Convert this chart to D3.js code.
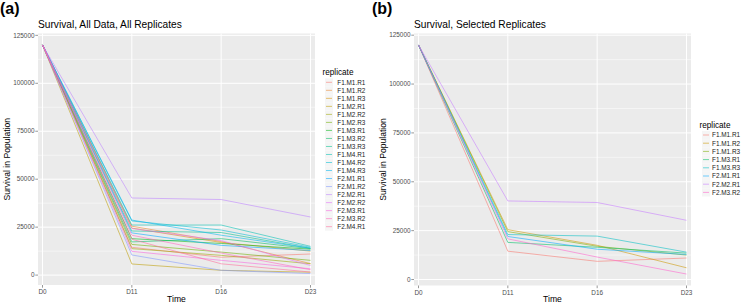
<!DOCTYPE html>
<head>
  <meta charset="utf-8">
  <script src="https://d3js.org/d3.v7.min.js"></script>
  <style>
    body { margin: 0; background: #fff; font-family: "Liberation Sans", Arial, sans-serif; }
    svg { display: block; }
    .tick-lab { fill: #4d4d4d; font-size: 6.4px; }
    .ax-title { fill: #000; font-size: 8.6px; }
    .plot-title { fill: #000; font-size: 10.2px; }
    .leg-lab { fill: #1a1a1a; font-size: 6.4px; }
    .leg-title { fill: #000; font-size: 8.2px; }
    .tag { font-weight: bold; font-size: 16px; fill: #000; }
  </style>
</head>
<body>
<div id="chart"></div>
<script>

var days = ["D0", "D11", "D16", "D23"];

var replicates = ["F1.M1.R1","F1.M1.R2","F1.M1.R3","F1.M2.R1","F1.M2.R2","F1.M2.R3",
                  "F1.M3.R1","F1.M3.R2","F1.M3.R3","F1.M4.R1","F1.M4.R2","F1.M4.R3",
                  "F2.M1.R1","F2.M1.R2","F2.M2.R1","F2.M2.R2","F2.M3.R1","F2.M3.R2","F2.M4.R1"];

// survival at D0, D11, D16, D23 for each replicate (same order as above)
var survival = [
  [120000, 14500,  9300, 11000],
  [120000, 25500, 17500,  6000],
  [120000, 24500, 17000, 12500],
  [120000,  5800,  2500,  1500],
  [120000, 13800, 10300,  5900],
  [120000, 16000, 12000,  7700],
  [120000, 19000, 16500, 13500],
  [120000, 17300, 19000, 13800],
  [120000, 23000, 22200, 14000],
  [120000, 26100, 26100, 15000],
  [120000, 28200, 23500, 14500],
  [120000, 28700, 20800, 14000],
  [120000, 22000, 15500, 12800],
  [120000, 10500,  2500,   800],
  [120000, 40200, 39400, 30300],
  [120000, 24300, 18000,  5000],
  [120000, 12400,  7700,  3300],
  [120000, 20800, 11500,  2800],
  [120000, 18700,  5900,  1600]
];

var selected = ["F1.M1.R1","F1.M1.R2","F1.M1.R3","F1.M3.R1","F1.M3.R3","F2.M1.R1","F2.M2.R1","F2.M3.R2"];

var yTicks = [0, 25000, 50000, 75000, 100000, 125000];

// ggplot2 default hue palette (polar LUV)
function hcl2hex(h, c, l) {
  var WX = 95.047, WY = 100, WZ = 108.883;
  var hr = h * Math.PI / 180, U = c * Math.cos(hr), V = c * Math.sin(hr);
  var Y = WY * (l > 7.999592 ? Math.pow((l + 16) / 116, 3) : l / 903.3);
  var t = WX + WY + WZ, x = WX / t, y = WY / t;
  var uN = 2 * x / (6 * y - x + 1.5), vN = 4.5 * y / (6 * y - x + 1.5);
  var u = U / (13 * l) + uN, v = V / (13 * l) + vN;
  var X = 9 * Y * u / (4 * v);
  var Z = -X / 3 - 5 * Y + 3 * Y / v;
  function g(a) { a = a > 0.00304 ? 1.055 * Math.pow(a, 1 / 2.4) - 0.055 : 12.92 * a; return Math.round(Math.max(0, Math.min(1, a)) * 255); }
  return d3.rgb(g((3.240479 * X - 1.537150 * Y - 0.498535 * Z) / WY),
                g((-0.969256 * X + 1.875992 * Y + 0.041556 * Z) / WY),
                g((0.055648 * X - 0.204043 * Y + 1.057311 * Z) / WY)).formatHex();
}
function huePal(n) {
  return d3.range(n).map(function(i) { return hcl2hex(15 + 360 * i / n, 100, 65); });
}

var svg = d3.select("#chart").append("svg")
    .attr("width", 745)
    .attr("height", 303);

function drawPanel(opt) {
  var names = opt.names;
  var rows = names.map(function(n) { return survival[replicates.indexOf(n)]; });
  var colors = huePal(names.length);

  var lo = d3.min(rows, function(r) { return d3.min(r); }),
      hi = d3.max(rows, function(r) { return d3.max(r); }),
      pad = (hi - lo) * 0.05;

  var y = d3.scaleLinear().domain([lo - pad, hi + pad]).range([opt.bottom, opt.top]);
  var x = d3.scalePoint().domain(days).range([opt.left + 4.5, opt.right - 4.5]);

  var g = svg.append("g");

  g.append("rect")
    .attr("x", opt.left).attr("y", opt.top)
    .attr("width", opt.right - opt.left).attr("height", opt.bottom - opt.top)
    .attr("fill", "#ebebeb");

  // minor grid
  var minor = d3.range(12500, 125000, 25000).filter(function(v) { return y(v) > opt.top && y(v) < opt.bottom; });
  g.selectAll(".minor").data(minor).enter().append("line")
    .attr("x1", opt.left).attr("x2", opt.right)
    .attr("y1", function(d) { return y(d); }).attr("y2", function(d) { return y(d); })
    .attr("stroke", "#fff").attr("stroke-width", 0.5);

  var major = yTicks.filter(function(v) { return y(v) >= opt.top && y(v) <= opt.bottom; });
  g.selectAll(".major").data(major).enter().append("line")
    .attr("x1", opt.left).attr("x2", opt.right)
    .attr("y1", function(d) { return y(d); }).attr("y2", function(d) { return y(d); })
    .attr("stroke", "#fff").attr("stroke-width", 1);

  g.selectAll(".vgrid").data(days).enter().append("line")
    .attr("x1", function(d) { return x(d); }).attr("x2", function(d) { return x(d); })
    .attr("y1", opt.top).attr("y2", opt.bottom)
    .attr("stroke", "#fff").attr("stroke-width", 1);

  var line = d3.line()
    .x(function(d, i) { return x(days[i]); })
    .y(function(d) { return y(d); });

  g.selectAll(".series").data(rows).enter().append("path")
    .attr("d", line)
    .attr("fill", "none")
    .attr("stroke", function(d, i) { return colors[i]; })
    .attr("stroke-width", 0.7)
    .attr("stroke-opacity", 0.8);

  // axes
  g.selectAll(".ytk").data(major).enter().append("line")
    .attr("x1", opt.left - 2.7).attr("x2", opt.left)
    .attr("y1", function(d) { return y(d); }).attr("y2", function(d) { return y(d); })
    .attr("stroke", "#333").attr("stroke-width", 0.5);
  g.selectAll(".ylab").data(major).enter().append("text")
    .attr("class", "tick-lab")
    .attr("x", opt.left - 3.5)
    .attr("y", function(d) { return y(d) + 2.2; })
    .attr("text-anchor", "end")
    .text(function(d) { return d; });

  g.selectAll(".xtk").data(days).enter().append("line")
    .attr("x1", function(d) { return x(d); }).attr("x2", function(d) { return x(d); })
    .attr("y1", opt.bottom).attr("y2", opt.bottom + 2.7)
    .attr("stroke", "#333").attr("stroke-width", 0.5);
  g.selectAll(".xlab").data(days).enter().append("text")
    .attr("class", "tick-lab")
    .attr("x", function(d) { return x(d); })
    .attr("y", opt.bottom + 9)
    .attr("text-anchor", "middle")
    .text(function(d) { return d; });

  g.append("text").attr("class", "ax-title")
    .attr("x", (opt.left + opt.right) / 2).attr("y", opt.bottom + 16.5)
    .attr("text-anchor", "middle").text("Time");

  g.append("text").attr("class", "ax-title")
    .attr("transform", "translate(" + opt.yTitleX + "," + (opt.top + opt.bottom) / 2 + ") rotate(-90)")
    .attr("text-anchor", "middle").text("Survival in Population");

  g.append("text").attr("class", "plot-title")
    .attr("x", opt.left).attr("y", opt.top - 5.5)
    .text(opt.title);

  g.append("text").attr("class", "tag")
    .attr("x", opt.tagX).attr("y", 14).text(opt.tag);

  // legend
  var leg = g.append("g").attr("transform", "translate(" + opt.legX + "," + opt.legY + ")");
  leg.append("text").attr("class", "leg-title").attr("x", 0).attr("y", -7).text("replicate");
  var item = leg.selectAll(".item").data(names).enter().append("g")
    .attr("transform", function(d, i) { return "translate(0," + (i * opt.legStep) + ")"; });
  item.append("rect")
    .attr("x", 2.5).attr("y", -opt.legStep / 2).attr("width", opt.legStep).attr("height", opt.legStep)
    .attr("fill", "#f5f5f5");
  item.append("line")
    .attr("x1", 3.5).attr("x2", 9.5).attr("y1", 0).attr("y2", 0)
    .attr("stroke", function(d, i) { return colors[i]; })
    .attr("stroke-width", 0.7)
    .attr("stroke-opacity", 0.8);
  item.append("text").attr("class", "leg-lab")
    .attr("x", opt.legLabX).attr("y", 2.3).text(function(d) { return d; });
}

drawPanel({
  names: replicates, title: "Survival, All Data, All Replicates", tag: "(a)", tagX: 0,
  left: 38, right: 315, top: 33.5, bottom: 285, yTitleX: 10,
  legX: 322.5, legY: 82.3, legStep: 8.02, legLabX: 14.8
});

drawPanel({
  names: selected, title: "Survival, Selected Replicates", tag: "(b)", tagX: 372,
  left: 414, right: 691, top: 33.5, bottom: 285.5, yTitleX: 386,
  legX: 699.5, legY: 135, legStep: 8.2, legLabX: 12.5
});

</script>
</body>
